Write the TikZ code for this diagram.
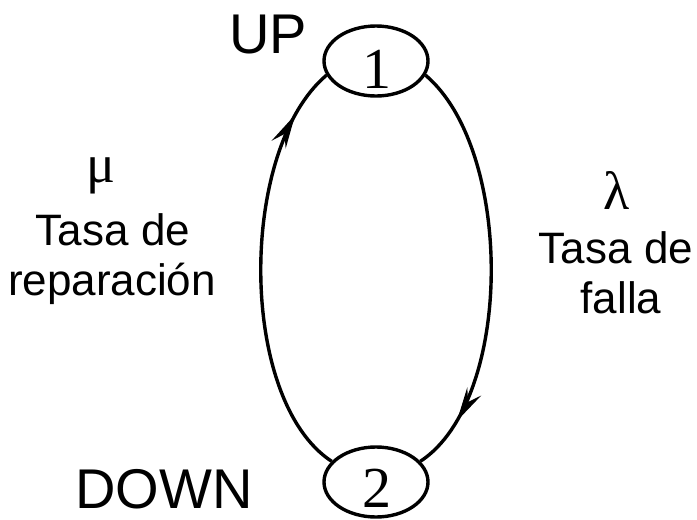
\documentclass[tikz,border=0pt]{standalone}
\usepackage{fontspec}
\setmainfont{Liberation Sans}
\newfontfamily\serifnum{Liberation Serif}
\usetikzlibrary{shapes.geometric,arrows.meta,decorations.markings}

\tikzset{
  state/.style={ellipse, draw, line width=3.4pt, minimum width=104pt,
                minimum height=70pt, inner sep=0pt},
  statenum/.style={anchor=base, inner sep=0pt,
                   font=\serifnum\fontsize{58}{60}\selectfont},
  tag/.style={inner sep=0pt, font=\fontsize{56}{60}\selectfont},
  rate/.style={inner sep=0pt, align=center,
               font=\fontsize{44}{50}\selectfont},
  greek/.style={inner sep=0pt, font=\serifnum\fontsize{54}{56}\selectfont},
  trans/.style={line width=3.4pt, postaction={decorate},
                decoration={markings,
                  mark=at position #1 with {\arrow{Stealth[length=34pt,width=16pt,inset=12pt]}}}}
}

\begin{document}
\begin{tikzpicture}[x=1pt,y=-1pt]
  \useasboundingbox (0,0) rectangle (697,520);

  % the two states
  \node[state] (s1) at (376,61) {};
  \node[state] (s2) at (376,482) {};
  \node[statenum] (n1) at (377,88) {1};
  \node[statenum] (n2) at (377,507) {2};

  % state labels
  \node[tag, anchor=base] (up) at (268,53) {UP};
  \node[tag, anchor=base] (down) at (164,508) {DOWN};

  % transitions: repair (2 -> 1) and failure (1 -> 2)
  \draw[trans=0.88] (s2.155) .. controls (238,400) and (238,150) .. (s1.196);
  \draw[trans=0.87] (s1.344) .. controls (514,150) and (514,400) .. (s2.25);

  % rates
  \node[greek] (mu) at (101,176) {μ};
  \node[rate, anchor=base] (rep1) at (113,245) {Tasa de};
  \node[rate, anchor=base] (rep2) at (112,295) {reparación};

  \node[greek] (lam) at (617,190) {λ};
  \node[rate, anchor=base] (fal1) at (616,263) {Tasa de};
  \node[rate, anchor=base] (fal2) at (621,313) {falla};
\end{tikzpicture}
\end{document}
